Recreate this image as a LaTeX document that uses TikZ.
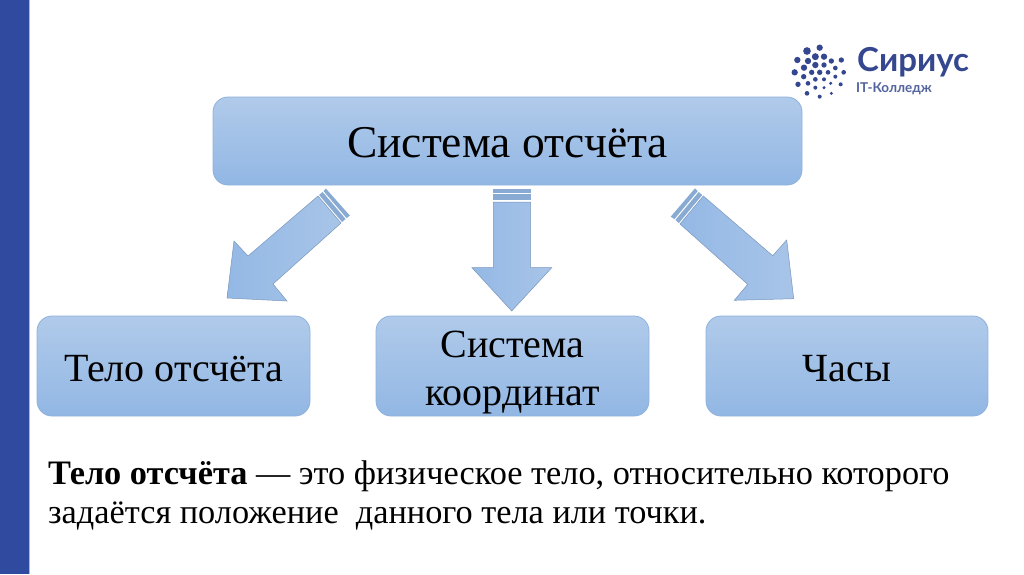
\documentclass[tikz,border=0pt]{standalone}
\usepackage{fontspec}
\setmainfont{Liberation Serif}
\newfontfamily\logofont{Lato}
\definecolor{barblue}{HTML}{2F4A9E}
\definecolor{barlight}{HTML}{A9B8DC}
\definecolor{logoblue}{HTML}{34478F}
\definecolor{boxtop}{HTML}{B0CAEA}
\definecolor{boxbot}{HTML}{92B7E4}
\definecolor{edge}{HTML}{8FB2DD}
\definecolor{arrowdark}{HTML}{94B9E5}
\definecolor{arrowlight}{HTML}{A8C4E8}
\newcommand{\lowered}[2]{\raisebox{-#1pt}[0pt][0pt]{#2}}
\tikzset{
  x=1pt,y=-1pt,
  box/.style={draw=edge,line width=0.8pt,rounded corners=15pt,top color=boxtop,bottom color=boxbot,align=center,inner sep=0pt,text=black},
  bigtext/.style={font=\fontsize{45.5}{50}\selectfont},
  midtext/.style={font=\fontsize{40}{48}\selectfont},
  arrowfill/.style={draw=edge!85!black,line width=0.5pt,left color=arrowdark,right color=arrowlight},
  stripefill/.style={draw=none,fill=arrowdark!92!black},
  bodytext/.style={font=\fontsize{34.3}{41}\selectfont,anchor=base west,inner sep=0pt},
  logodot/.style={fill=logoblue,draw=none},
}
\begin{document}
\begin{tikzpicture}
\useasboundingbox (0,0) rectangle (1024,574);
\fill[white] (0,0) rectangle (1024,574);
\fill[barblue] (0,0) rectangle (28.5,574);
\fill[barlight] (28.5,0) rectangle (30,574);
% boxes
\node[box,bigtext,minimum width=589pt,minimum height=88pt] (top) at (507.5,141) {\lowered{16}{Система отсчёта}};
\node[box,midtext,minimum width=273pt,minimum height=100pt] (b1) at (173.5,366) {\lowered{15}{Тело отсчёта}};
\node[box,midtext,minimum width=273pt,minimum height=100pt] (b2) at (512.5,366) {\lowered{39}{\begin{tabular}[b]{@{}c@{}}Система\\координат\end{tabular}}};
\node[box,midtext,minimum width=282pt,minimum height=100pt] (b3) at (847,366) {\lowered{15}{Часы}};
% left arrow
\draw[arrowfill] (318,196) -- (341,223) -- (273,284) -- (287,301) -- (227,298) -- (234,241) -- (248,256) -- cycle;
\fill[stripefill] (319.1,195) -- (342.1,222) -- (345.6,219) -- (322.6,192) -- cycle;
\fill[stripefill] (323.6,191.1) -- (346.6,218.1) -- (349.8,215.5) -- (325.8,188.5) -- cycle;
% middle arrow
\draw[arrowfill] (493.3,202) -- (530.7,202) -- (530.7,267.7) -- (551.7,267.7) -- (511.7,311) -- (472,267.7) -- (493.3,267.7) -- cycle;
\fill[stripefill] (493.3,194.3) rectangle (530.7,200);
\fill[stripefill] (493.3,189.3) rectangle (530.7,192.7);
% right arrow
\draw[arrowfill] (703.3,196) -- (680,224) -- (747.7,284.3) -- (734.3,300.3) -- (793.7,298.7) -- (786.7,240) -- (772.7,255.7) -- cycle;
\fill[stripefill] (702.2,195) -- (678.9,223) -- (675.4,220) -- (698.7,192) -- cycle;
\fill[stripefill] (697.7,191.1) -- (674.4,219.1) -- (670.7,216.7) -- (695,188.3) -- cycle;
% text
\node[bodytext] (t1) at (48,484) {\textbf{Тело отсчёта} — это физическое тело, относительно которого};
\node[bodytext] (t2) at (48,523) {задаётся положение\ \ данного тела или точки.};
% logo
\foreach \zx/\zy/\zr in {95/23/9.5,57/33/11.5,28/60/9.5,60/63/9.5,82/50/10.5,108/50/9.5,130/63/8,160/60/8,82/75/9.5,108/75/8,48/83/9.5,20/97/9.5,142/84/7,47/110/8,71/97/8,95/97/8,120/97/7,167/97/7,142/110/6,30/133/8,60/130/7,82/118/7,108/118/6,128/130/5,158/133/6,82/143/6,108/143/5,57/160/7,130/160/5,95/170/6}
  \fill[logodot] ({788+\zx/3},{40+\zy/3}) circle ({\zr/3});
\node[font=\logofont\fontsize{33}{33}\selectfont\bfseries,text=logoblue,anchor=base west,inner sep=0pt] (logo1) at (857,71) {Сириус};
\node[font=\logofont\fontsize{13.5}{14}\selectfont\bfseries,text=logoblue!85!white,anchor=base west,inner sep=0pt] (logo2) at (856,92) {IT-Колледж};
\end{tikzpicture}
\end{document}
